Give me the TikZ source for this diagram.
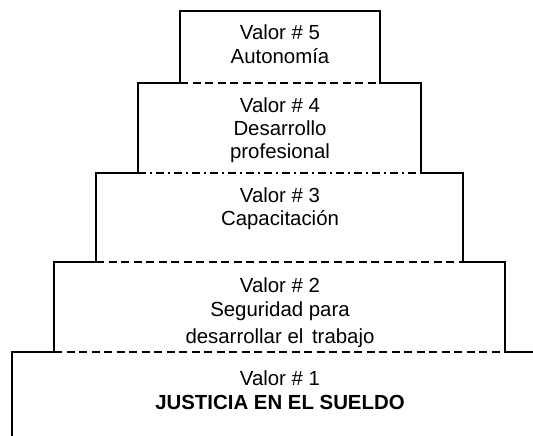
\documentclass[tikz,border=0pt]{standalone}
\usepackage{fontspec}
\setmainfont{Liberation Sans}
\begin{document}
\begin{tikzpicture}[x=1pt,y=-1pt,
  outline/.style={line width=1.7pt, line join=miter},
  sepdash/.style={line width=1.5pt, dash pattern=on 8pt off 4.5pt},
  sepdashdot/.style={line width=1.5pt, dash pattern=on 8pt off 4pt on 2pt off 4pt},
  lbl/.style={font=\fontsize{20.4}{24}\selectfont, inner sep=0pt, anchor=base},
  blbl/.style={lbl, font=\fontsize{20.4}{24}\selectfont\bfseries}]
\useasboundingbox (0,0) rectangle (533,436);
\clip (0,0) rectangle (533,436);
% step corners
\coordinate (s1l) at (12,352);  \coordinate (s1r) at (545,352);
\coordinate (s2l) at (54,352);  \coordinate (s2r) at (505,352);
\coordinate (s2tl) at (54,262); \coordinate (s2tr) at (505,262);
\coordinate (s3l) at (96,262);  \coordinate (s3r) at (463,262);
\coordinate (s3tl) at (96,173); \coordinate (s3tr) at (463,173);
\coordinate (s4l) at (138,173); \coordinate (s4r) at (421,173);
\coordinate (s4tl) at (138,83); \coordinate (s4tr) at (421,83);
\coordinate (s5l) at (180,83);  \coordinate (s5r) at (380,83);
\coordinate (s5tl) at (180,11); \coordinate (s5tr) at (380,11);
\coordinate (bot) at (12,440);
% texts
\node[lbl] (v5) at (280,40) {Valor \# 5};
\node[lbl] (t5) at (280,64) {Autonomía};
\node[lbl] (v4) at (280,112) {Valor \# 4};
\node[lbl] (t4a) at (280,135) {Desarrollo};
\node[lbl] (t4b) at (280,158) {profesional};
\node[lbl] (v3) at (280,202) {Valor \# 3};
\node[lbl] (t3) at (280,225) {Capacitación};
\node[lbl] (v2) at (280,292) {Valor \# 2};
\node[lbl] (t2a) at (280,316) {Seguridad para};
\begin{scope}
  \clip (0,0) rectangle (533,346);
  \node[lbl] (t2b) at (280,343) {desarrollar el\hspace{3pt} trabajo};
\end{scope}
\node[lbl] (v1) at (280,385) {Valor \# 1};
\node[blbl] (t1) at (280,409) {JUSTICIA EN EL SUELDO};
% separators
\draw[sepdash] (s2l) -- (s2r);
\draw[sepdash] (s3l) -- (s3r);
\draw[sepdashdot] (s4l) -- (s4r);
\draw[sepdash] (s5l) -- (s5r);
% outline
\draw[outline] (bot) -- (s1l) -- (s2l) -- (s2tl) -- (s3l) -- (s3tl) -- (s4l)
  -- (s4tl) -- (s5l) -- (s5tl) -- (s5tr) -- (s5r) -- (s4tr) -- (s4r)
  -- (s3tr) -- (s3r) -- (s2tr) -- (s2r) -- (s1r);
\end{tikzpicture}
\end{document}
